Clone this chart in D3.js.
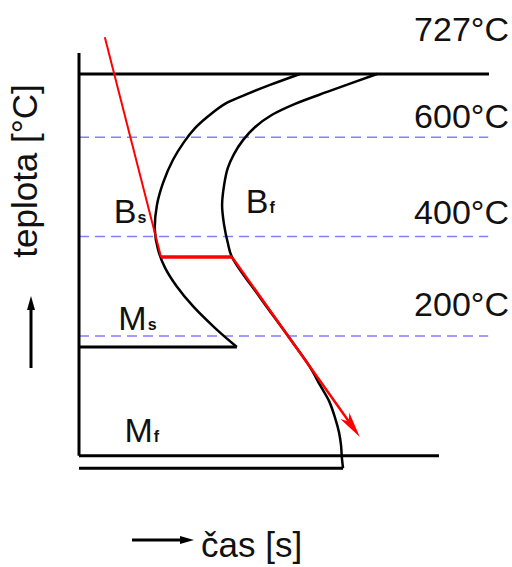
<!doctype html>
<html>
<head>
<meta charset="utf-8">
<script src="https://cdn.jsdelivr.net/npm/d3@7/dist/d3.min.js"></script>
<style>
  body { margin: 0; background: #fff; }
</style>
</head>
<body>
<script>
// schematic TTT diagram: time in arbitrary units (0-100), temperature in °C

var tempTicks = [727, 600, 400, 200];
var tempLabels = ["727°C", "600°C", "400°C", "200°C"];
var isotherms = [600, 400, 200];

// horizontal frame lines: [t start, t end, temperature]
var frameLines = [
  [0, 100, 727],
  [0, 38.5, 178],
  [0, 87.8, -41],
  [0, 64.4, -66]
];
// vertical axis: [t, T top, T bottom]
var axisLine = [0, 769, -41];

// bainite start curve (Bs), ends at the Ms tip
var bsCurve = [
  [53.9, 727], [46.6, 705], [40.5, 685], [35.6, 667], [31.5, 642],
  [28.3, 618], [25.6, 590], [22.9, 554], [20.5, 508], [19.0, 463],
  [18.5, 413], [19.3, 373], [21.0, 337], [23.9, 299], [27.8, 260],
  [33.2, 216], [38.5, 178]
];

// bainite finish curve (Bf)
var bfCurve = [
  [72.7, 727], [61.2, 693], [52.7, 667], [47.1, 645], [42.9, 620],
  [40.0, 594], [37.8, 566], [36.3, 538], [35.4, 504], [34.9, 463],
  [35.4, 423], [36.3, 387], [37.3, 359], [44.1, 278], [51.5, 194],
  [56.3, 138], [58.8, 101], [61.0, 69], [62.4, 37], [63.4, 7],
  [63.9, -19], [64.1, -43], [64.4, -66]
];

// cooling path (red)
var coolStart = [[6.3, 801], [20.0, 359]];
var coolHold = [[20.0, 359], [37.3, 359]];
var coolEnd = [[37.3, 359], [68.5, -3]];

// phase labels: [letter, subscript, t, T]
var phaseLabels = [
  ["B", "s", 8.5, 427],
  ["B", "f", 40.7, 447],
  ["M", "s", 9.6, 212],
  ["M", "f", 11.1, -13]
];

var width = 512;
var height = 567;

var x = d3.scaleLinear().domain([0, 100]).range([79, 489]);
var y = d3.scaleLinear().domain([200, 727]).range([336, 74]);

var svg = d3.select("body")
  .append("svg")
  .attr("width", width)
  .attr("height", height)
  .style("font-family", "'Liberation Sans', Arial, sans-serif");

var line = d3.line()
  .x(function(d) { return x(d[0]); })
  .y(function(d) { return y(d[1]); });

var curve = d3.line()
  .x(function(d) { return x(d[0]); })
  .y(function(d) { return y(d[1]); })
  .curve(d3.curveCatmullRom.alpha(0.5));

// dashed isotherms
svg.selectAll(".iso")
  .data(isotherms)
  .enter()
  .append("line")
  .attr("x1", x(0))
  .attr("x2", x(99.8))
  .attr("y1", function(d) { return y(d); })
  .attr("y2", function(d) { return y(d); })
  .attr("stroke", "#7f7fff")
  .attr("stroke-width", 1.5)
  .attr("stroke-dasharray", "10,6");

// frame
svg.selectAll(".frame")
  .data(frameLines)
  .enter()
  .append("line")
  .attr("x1", function(d) { return x(d[0]); })
  .attr("x2", function(d) { return x(d[1]); })
  .attr("y1", function(d) { return y(d[2]); })
  .attr("y2", function(d) { return y(d[2]); })
  .attr("stroke", "#000")
  .attr("stroke-width", 3);

svg.append("line")
  .attr("x1", x(axisLine[0]))
  .attr("x2", x(axisLine[0]))
  .attr("y1", y(axisLine[1]))
  .attr("y2", y(axisLine[2]))
  .attr("stroke", "#000")
  .attr("stroke-width", 3);

// transformation curves
svg.append("path")
  .attr("d", curve(bsCurve))
  .attr("fill", "none")
  .attr("stroke", "#000")
  .attr("stroke-width", 2.5);

svg.append("path")
  .attr("d", curve(bfCurve))
  .attr("fill", "none")
  .attr("stroke", "#000")
  .attr("stroke-width", 2.5);

// cooling path
svg.append("path")
  .attr("d", line(coolStart))
  .attr("fill", "none")
  .attr("stroke", "#ff0000")
  .attr("stroke-width", 2);

svg.append("path")
  .attr("d", line(coolHold))
  .attr("fill", "none")
  .attr("stroke", "#ff0000")
  .attr("stroke-width", 3.5);

// last leg stops short of the tip, the head covers the rest
var p0 = [x(coolEnd[0][0]), y(coolEnd[0][1])];
var p1 = [x(coolEnd[1][0]), y(coolEnd[1][1])];
var dx = p1[0] - p0[0], dy = p1[1] - p0[1];
var len = Math.sqrt(dx * dx + dy * dy);
var ux = dx / len, uy = dy / len;
var headLen = 26, headW = 5.5;

svg.append("line")
  .attr("x1", p0[0]).attr("y1", p0[1])
  .attr("x2", p1[0] - ux * 18).attr("y2", p1[1] - uy * 18)
  .attr("stroke", "#ff0000")
  .attr("stroke-width", 2.5);

var bx = p1[0] - ux * headLen, by = p1[1] - uy * headLen;
var nx = p1[0] - ux * (headLen - 7), ny = p1[1] - uy * (headLen - 7);
svg.append("path")
  .attr("d", "M" + p1[0] + "," + p1[1] +
    "L" + (bx - uy * headW) + "," + (by + ux * headW) +
    "L" + nx + "," + ny +
    "L" + (bx + uy * headW) + "," + (by - ux * headW) + "Z")
  .attr("fill", "#ff0000");

// temperature labels
svg.selectAll(".tlab")
  .data(tempTicks)
  .enter()
  .append("text")
  .attr("x", 509)
  .attr("y", function(d) { return y(d); })
  .attr("dy", function(d, i) { return [-33, -9, -13, -20][i]; })
  .attr("text-anchor", "end")
  .attr("font-size", "34px")
  .attr("fill", "#111")
  .text(function(d, i) { return tempLabels[i]; });

// phase labels
var pl = svg.selectAll(".plab")
  .data(phaseLabels)
  .enter()
  .append("text")
  .attr("x", function(d) { return x(d[2]); })
  .attr("y", function(d) { return y(d[3]); })
  .attr("font-size", "34px")
  .attr("fill", "#111");

pl.append("tspan")
  .text(function(d) { return d[0]; });

pl.append("tspan")
  .attr("font-size", "16px")
  .attr("font-weight", "bold")
  .attr("dx", 1)
  .text(function(d) { return d[1]; });

// axis titles
svg.append("text")
  .attr("transform", "translate(37,171) rotate(-90)")
  .attr("text-anchor", "middle")
  .attr("font-size", "35px")
  .attr("fill", "#111")
  .text("teplota [°C]");

svg.append("text")
  .attr("x", 201)
  .attr("y", 557)
  .attr("font-size", "35px")
  .attr("fill", "#111")
  .text("čas [s]");

// small direction arrows
svg.append("line")
  .attr("x1", 31).attr("y1", 368)
  .attr("x2", 31).attr("y2", 306)
  .attr("stroke", "#000")
  .attr("stroke-width", 3);
svg.append("path")
  .attr("d", "M31,296L35,310L27,310Z")
  .attr("fill", "#000");

svg.append("line")
  .attr("x1", 132).attr("y1", 540)
  .attr("x2", 184).attr("y2", 540)
  .attr("stroke", "#000")
  .attr("stroke-width", 3);
svg.append("path")
  .attr("d", "M194,540L180,536L180,544Z")
  .attr("fill", "#000");
</script>
</body>
</html>
